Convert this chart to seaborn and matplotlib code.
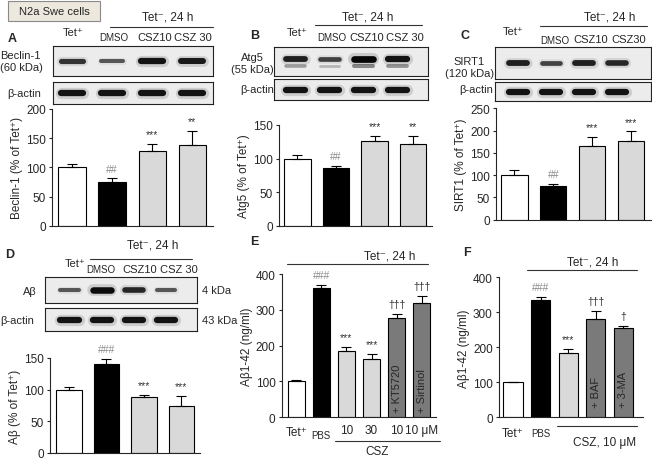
import matplotlib

matplotlib.use("Agg")
import matplotlib.pyplot as plt
from matplotlib.lines import Line2D
from matplotlib.patches import Rectangle
import numpy as np
import pandas as pd
import seaborn as sns

sns.set_style("ticks")
plt.rcParams["font.family"] = ["Liberation Sans", "DejaVu Sans"]
plt.rcParams["font.size"] = 8
plt.rcParams["axes.linewidth"] = 0.8

W, H = 652, 460

# ---- data ----
lanes = ["Tet+", "DMSO", "CSZ10", "CSZ30"]
lane_colors = ["white", "black", "#d9d9d9", "#d9d9d9"]

beclin = [100, 75, 128, 139]
beclin_err = [5, 6, 12, 23]
beclin_sig = ["", "##", "***", "**"]

atg5 = [100, 86, 126, 122]
atg5_err = [6, 3, 8, 12]
atg5_sig = ["", "##", "***", "**"]

sirt1 = [100, 76, 165, 176]
sirt1_err = [12, 5, 21, 22]
sirt1_sig = ["", "##", "***", "***"]

abeta = [100, 140, 89, 75]
abeta_err = [5, 9, 2.5, 15]
abeta_sig = ["", "###", "***", "***"]

e_groups = ["Tet+", "PBS", "CSZ10", "CSZ30", "CSZ10+KT5720", "CSZ10+Sirtinol"]
e_ticks = ["Tet⁺", "PBS", "10", "30", "10", "10 μM"]
e_colors = ["white", "black", "#d9d9d9", "#d9d9d9", "#7a7a7a", "#7a7a7a"]
e_abeta42 = [100, 360, 185, 163, 278, 318]
e_err = [4, 9, 12, 15, 11, 20]
e_sig = ["", "###", "***", "***", "†††", "†††"]
e_inside = ["", "", "", "", "+ KT5720", "+ Sirtinol"]

f_groups = ["Tet+", "PBS", "CSZ10", "CSZ10+BAF", "CSZ10+3-MA"]
f_ticks = ["Tet⁺", "PBS", "", "", ""]
f_colors = ["white", "black", "#d9d9d9", "#7a7a7a", "#7a7a7a"]
f_abeta42 = [100, 336, 185, 280, 255]
f_err = [2, 9, 9, 25, 7]
f_sig = ["", "###", "***", "†††", "†"]
f_inside = ["", "", "", "+ BAF", "+ 3-MA"]

# band strength on the blots (0 = none, 1 = strongest)
beclin_band = [0.6, 0.35, 0.85, 0.8]
atg5_band = [0.75, 0.5, 0.95, 0.85]
sirt1_band = [0.75, 0.5, 0.75, 0.7]
abeta_band = [0.35, 0.9, 0.7, 0.35]
actin_band = [0.85, 0.85, 0.85, 0.85]

fig = plt.figure(figsize=(W / 100, H / 100), dpi=100)


def px_axes(x0, y0, x1, y1):
    return fig.add_axes([x0 / W, 1 - y1 / H, (x1 - x0) / W, (y1 - y0) / H])


def ptext(x, y, s, **kw):
    kw.setdefault("ha", "center")
    kw.setdefault("va", "center")
    fig.text(x / W, 1 - y / H, s, **kw)


def pline(x0, x1, y):
    fig.add_artist(Line2D([x0 / W, x1 / W], [1 - y / H] * 2, transform=fig.transFigure,
                          color="#333333", lw=0.8))


def lane_labels(items):
    for xp, yp, s in items:
        ptext(xp, yp, s, fontsize=7 if s == "DMSO" else 8)


def sig_color(s):
    return "#8a8a8a" if s.startswith("#") else "#333333"


def bar_panel(box, groups, values, errs, sigs, colors, ylim, step, ylabel, xlim, width=0.68):
    ax = px_axes(*box)
    df = pd.DataFrame({"group": groups, "value": values})
    sns.barplot(data=df, x="group", y="value", hue="group", order=groups, hue_order=groups,
                palette=dict(zip(groups, colors)), saturation=1, width=width,
                edgecolor="black", linewidth=0.8, errorbar=None, legend=False, ax=ax)
    x = np.arange(len(groups))
    ax.errorbar(x, values, yerr=[np.zeros(len(errs)), errs], fmt="none", ecolor="black",
                elinewidth=0.8, capsize=3.5, capthick=0.8)
    for i, s in enumerate(sigs):
        if s:
            ax.annotate(s, (i, values[i] + errs[i]), xytext=(0, 3.5), textcoords="offset points",
                        ha="center", va="bottom", fontsize=7.5, color=sig_color(s))
    ax.set_xlim(*xlim)
    ax.set_ylim(*ylim)
    ax.set_yticks(np.arange(ylim[0], ylim[1] + 1, step))
    ax.set_xticks([])
    ax.set_xlabel("")
    ax.set_ylabel(ylabel, labelpad=2, fontsize=8.5)
    ax.tick_params(axis="y", length=2.5, width=0.8, pad=2, labelsize=8.5)
    sns.despine(ax=ax)
    return ax


def blot(box, bands, xlim, doublet=False):
    ax = px_axes(*box)
    ax.set_facecolor("#ececec")
    ax.set_xlim(*xlim)
    ax.set_ylim(0, 1)
    ax.set_xticks([])
    ax.set_yticks([])
    for sp in ax.spines.values():
        sp.set_visible(True)
        sp.set_color("#222222")
        sp.set_linewidth(0.8)
    yc = 0.6 if doublet else 0.5
    for i, b in enumerate(bands):
        lw = 1.8 + 3.2 * b
        ax.plot([i - 0.28, i + 0.28], [yc, yc], color="black", lw=lw * 1.8,
                alpha=0.15 * b, solid_capstyle="round")
        ax.plot([i - 0.28, i + 0.28], [yc, yc], color="black", lw=lw,
                alpha=0.4 + 0.6 * b, solid_capstyle="round")
        if doublet:
            ax.plot([i - 0.28, i + 0.28], [0.36, 0.36], color="black", lw=lw * 0.6,
                    alpha=0.45 * b, solid_capstyle="round")
    return ax


# ---------------- panel A ----------------
fig.add_artist(Rectangle((8 / W, 1 - 22 / H), 92 / W, 20 / H, transform=fig.transFigure,
                         facecolor="#ece8dd", edgecolor="#8a8a8a", lw=0.8))
ptext(54, 12, "N2a Swe cells", fontsize=8)
ptext(12, 39, "A", fontweight="bold", fontsize=9)
ptext(168, 17, "Tet⁻, 24 h", fontsize=8.5)
pline(110, 213, 27.5)
lane_labels([(73, 33, "Tet⁺"), (114, 38, "DMSO"), (155, 38, "CSZ10"), (193, 38, "CSZ 30")])
blot((53, 47, 213, 77), beclin_band, (-0.47, 3.53))
blot((53, 83, 213, 105), actin_band, (-0.47, 3.53))
ptext(0, 62, "Beclin-1\n(60 kDa)", ha="left", fontsize=8, linespacing=1.3)
ptext(7, 94, "β-actin", ha="left", fontsize=8)
bar_panel((52, 110, 213, 226.7), lanes, beclin, beclin_err, beclin_sig, lane_colors,
          (0, 200), 50, "Beclin-1 (% of Tet⁺)", (-0.5, 3.52))

# ---------------- panel B ----------------
ptext(255, 36, "B", fontweight="bold", fontsize=9)
ptext(368, 18, "Tet⁻, 24 h", fontsize=8.5)
pline(315, 422, 25.5)
lane_labels([(297, 33, "Tet⁺"), (332, 38, "DMSO"), (367, 38, "CSZ10"), (405, 38, "CSZ 30")])
blot((274, 48, 428, 77), atg5_band, (-0.64, 3.9), doublet=True)
blot((274, 80, 428, 101), actin_band, (-0.64, 3.9))
ptext(274, 64, "Atg5\n(55 kDa)", ha="right", multialignment="center", fontsize=8,
      linespacing=1.3)
ptext(274, 90, "β-actin", ha="right", fontsize=8)
bar_panel((279.3, 126, 431.7, 226.7), lanes, atg5, atg5_err, atg5_sig, lane_colors,
          (0, 150), 50, "Atg5 (% of Tet⁺)", (-0.47, 3.48))

# ---------------- panel C ----------------
ptext(465, 36, "C", fontweight="bold", fontsize=9)
ptext(610, 18, "Tet⁻, 24 h", fontsize=8.5)
pline(540, 647, 27)
lane_labels([(513, 32, "Tet⁺"), (555, 41, "DMSO"), (591, 40, "CSZ10"), (629, 40, "CSZ30")])
blot((495, 48, 650.5, 80), sirt1_band, (-0.7, 4.02))
blot((495, 83, 650.5, 102), actin_band, (-0.7, 4.02))
ptext(494, 68, "SIRT1\n(120 kDa)", ha="right", multialignment="center", fontsize=8,
      linespacing=1.3)
ptext(493, 90, "β-actin", ha="right", fontsize=8)
bar_panel((496, 109.3, 651.7, 220.7), lanes, sirt1, sirt1_err, sirt1_sig, lane_colors,
          (0, 250), 50, "SIRT1 (% of Tet⁺)", (-0.47, 3.53))

# ---------------- panel D ----------------
ptext(10, 255, "D", fontweight="bold", fontsize=9)
ptext(153, 246, "Tet⁻, 24 h", fontsize=8.5)
pline(90, 192, 260)
lane_labels([(75, 264, "Tet⁺"), (101, 270, "DMSO"), (140, 270, "CSZ10"), (179, 270, "CSZ 30")])
blot((45, 278, 196.7, 304.3), abeta_band, (-0.76, 3.94))
blot((45, 309, 196.7, 332), actin_band, (-0.76, 3.94))
ptext(30, 292, "Aβ", fontsize=8)
ptext(0, 321.5, "β-actin", ha="left", fontsize=8)
ptext(201.5, 291.5, "4 kDa", ha="left", fontsize=8)
ptext(201.5, 321.5, "43 kDa", ha="left", fontsize=8)
bar_panel((50, 359, 200, 454), lanes, abeta, abeta_err, abeta_sig, lane_colors,
          (0, 150), 50, "Aβ (% of Tet⁺)", (-0.5, 3.5))

# ---------------- panel E ----------------
ptext(254, 242, "E", fontweight="bold", fontsize=9)
ptext(390, 256.5, "Tet⁻, 24 h", fontsize=8.5)
pline(287, 428, 265)
ax_e = bar_panel((281.7, 275, 436, 418.3), e_groups, e_abeta42, e_err, e_sig, e_colors,
                 (0, 400), 100, "Aβ1-42 (ng/ml)", (-0.58, 5.57))
for i, s in enumerate(e_inside):
    if s:
        ax_e.text(i, 16, s, rotation=90, ha="center", va="bottom", fontsize=8)
for i, s in enumerate(e_ticks):
    dy = 12.5 if s == "PBS" else (10.5 if s == "Tet⁺" else 9.2)
    ax_e.annotate(s, (i, 0), xycoords=("data", "axes fraction"), xytext=(0, -dy),
                  textcoords="offset points", ha="center", va="center",
                  fontsize=7 if s == "PBS" else 8.5)
pline(335, 440, 441.7)
ptext(377, 452, "CSZ", fontsize=8.5)

# ---------------- panel F ----------------
ptext(467, 253, "F", fontweight="bold", fontsize=9)
ptext(593, 262.5, "Tet⁻, 24 h", fontsize=8.5)
pline(527, 637, 271)
ax_f = bar_panel((499, 278.3, 642.7, 418.3), f_groups, f_abeta42, f_err, f_sig, f_colors,
                 (0, 400), 100, "Aβ1-42 (ng/ml)", (-0.51, 4.7), width=0.7)
for i, s in enumerate(f_inside):
    if s:
        ax_f.text(i, 30, s, rotation=90, ha="center", va="bottom", fontsize=8)
for i, s in enumerate(f_ticks):
    if s:
        ax_f.annotate(s, (i, 0), xycoords=("data", "axes fraction"), xytext=(0, -11),
                      textcoords="offset points", ha="center", va="center",
                      fontsize=7 if s == "PBS" else 8.5)
pline(557, 637, 427.3)
ptext(605, 443, "CSZ, 10 μM", fontsize=8.5)

fig.savefig("out.png", dpi=100, facecolor="white")
plt.close(fig)
